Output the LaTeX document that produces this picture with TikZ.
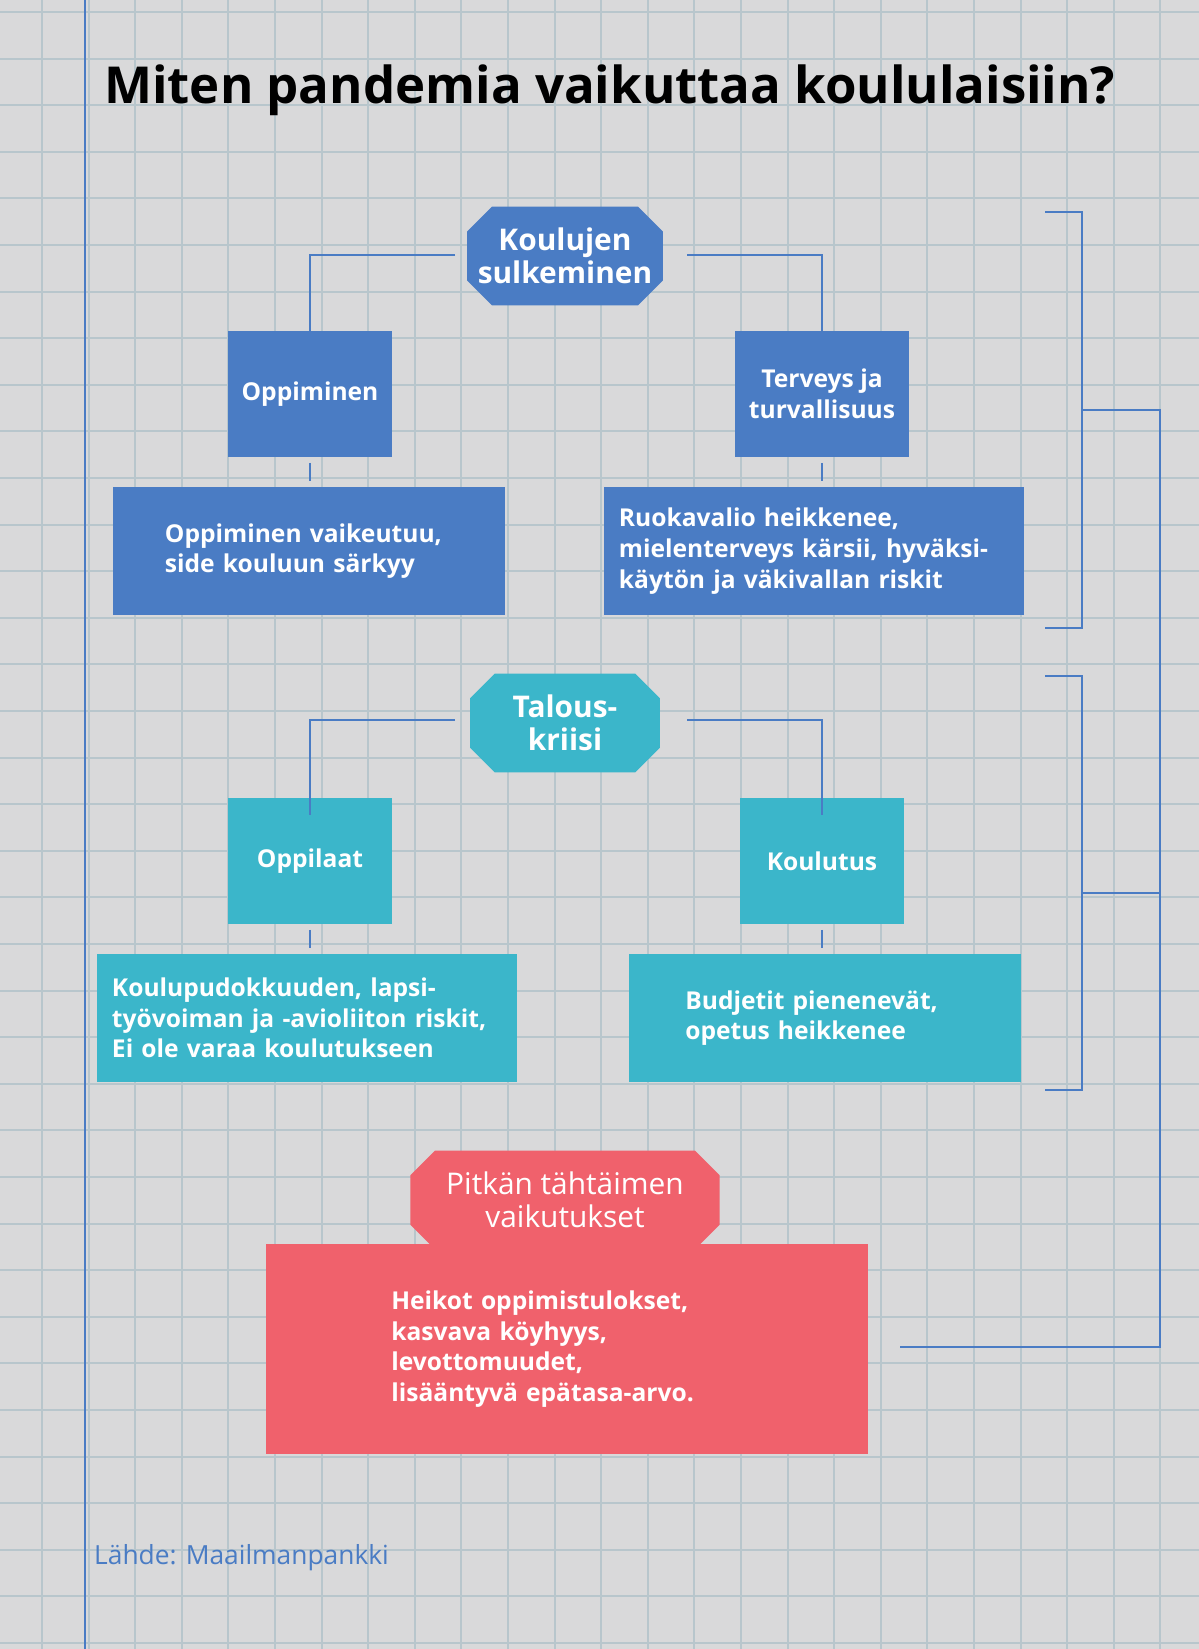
\documentclass[tikz,border=0pt]{standalone}
\usepackage{fontspec}
\setmainfont{Open Sans}
\usetikzlibrary{shapes.misc,positioning}
\definecolor{paper}{HTML}{D9D9DA}
\definecolor{gridc}{HTML}{B8C6CC}
\definecolor{lineblue}{HTML}{4A7CC4}
\definecolor{boxblue}{HTML}{4A7CC4}
\definecolor{boxteal}{HTML}{3BB6CA}
\definecolor{boxred}{HTML}{F0616C}
\tikzset{
  tab/.style={chamfered rectangle, chamfered rectangle xsep=4pt, chamfered rectangle ysep=10pt, fill=#1, text=white,
    font=\fontsize{17}{19}\selectfont\bfseries, align=center, inner sep=2pt, minimum width=108pt, minimum height=48pt},
  card/.style={fill=#1, text=white, font=\fontsize{14}{17.5}\selectfont\bfseries, align=left, inner sep=8pt},
  link/.style={draw=lineblue, line width=1.6pt}
}
\begin{document}
\begin{tikzpicture}[x=0.02cm,y=-0.02cm]
\fill[paper] (0,0) rectangle (1199,1649);
\useasboundingbox (0,0) rectangle (1199,1649);
% grid
\foreach \i in {0,...,25} {
  \draw[gridc, line width=1.2pt] (42+46.6*\i,0) -- (42+46.6*\i,1649);
}
\foreach \j in {0,...,35} {
  \draw[gridc, line width=1.2pt] (0,12+46.6*\j) -- (1199,12+46.6*\j);
}
\draw[lineblue, line width=1.2pt] (85,0) -- (85,1649);
\node[anchor=west, font=\fontsize{29}{32}\selectfont\bfseries] (title) at (98,90) {Miten pandemia vaikuttaa koululaisiin?};
% school closures
\node[tab=boxblue] (koulu) at (565,256) {Koulujen\\sulkeminen};
\node[card=boxblue, align=center, minimum width=93pt, minimum height=72pt] (oppi) at (310,394) {Oppiminen};
\node[card=boxblue, align=center, minimum width=93pt, minimum height=72pt] (terv) at (822,394) {Terveys ja\\turvallisuus};
\node[card=boxblue, minimum width=223pt, minimum height=73pt, text width=164pt] (oppiv) at (309,551) {Oppiminen vaikeutuu,\\side kouluun särkyy};
\node[card=boxblue, minimum width=239pt, minimum height=73pt, text width=222pt] (ruoka) at (814,551) {Ruokavalio heikkenee,\\mielenterveys kärsii, hyväksi-\\käytön ja väkivallan riskit};
% economic crisis
\node[tab=boxteal] (talous) at (565,723) {Talous-\\kriisi};
\node[card=boxteal, align=center, minimum width=93pt, minimum height=72pt] (oppil) at (310,861) {Oppilaat};
\node[card=boxteal, align=center, minimum width=93pt, minimum height=72pt] (koulut) at (822,861) {Koulutus};
\node[card=boxteal, minimum width=239pt, minimum height=73pt, text width=222pt] (pudo) at (307,1018) {Koulupudokkuuden, lapsi-\\työvoiman ja -avioliiton riskit,\\Ei ole varaa koulutukseen};
\node[card=boxteal, minimum width=223pt, minimum height=73pt, text width=159pt] (budj) at (825,1018) {Budjetit pienenevät,\\opetus heikkenee};
% long term
\node[tab=boxred, font=\fontsize{17}{19}\selectfont, minimum width=176pt, minimum height=45pt] (pitka) at (565,1200) {Pitkän tähtäimen\\vaikutukset};
\node[card=boxred, minimum width=343pt, minimum height=120pt, text width=200pt] (heik) at (567,1349) {Heikot oppimistulokset,\\kasvava köyhyys,\\levottomuudet,\\lisääntyvä epätasa-arvo.};
% connectors
\coordinate (kL) at (455,255); \coordinate (kR) at (687,255);
\draw[link] (kL) -| ([yshift=-10pt]oppi.north);
\draw[link] (kR) -| ([yshift=-10pt]terv.north);
\draw[link] ([yshift=-3pt]oppi.south) -- ([yshift=3pt]oppi.south |- oppiv.north);
\draw[link] ([yshift=-3pt]terv.south) -- ([yshift=3pt]terv.south |- ruoka.north);
\coordinate (tL) at (455,720); \coordinate (tR) at (687,720);
\draw[link] (tL) -| ([yshift=-10pt]oppil.north);
\draw[link] (tR) -| ([yshift=-10pt]koulut.north);
\draw[link] ([yshift=-3pt]oppil.south) -- ([yshift=3pt]oppil.south |- pudo.north);
\draw[link] ([yshift=-3pt]koulut.south) -- ([yshift=3pt]koulut.south |- budj.north);
% brackets
\draw[link] (1045,212) -- (1082,212) -- (1082,628) -- (1045,628);
\draw[link] (1045,676) -- (1082,676) -- (1082,1090) -- (1045,1090);
\coordinate (b1) at (1082,410); \coordinate (b2) at (1082,893);
\coordinate (hE) at (900,1347);
\draw[link] (b1) -- (1160,410) -- (1160,1347) -- (hE);
\draw[link] (b2) -- (1160,893);
\node[anchor=west, text=lineblue, font=\fontsize{15}{16}\selectfont] (lahde) at (88,1558) {Lähde: Maailmanpankki};
\end{tikzpicture}
\end{document}
